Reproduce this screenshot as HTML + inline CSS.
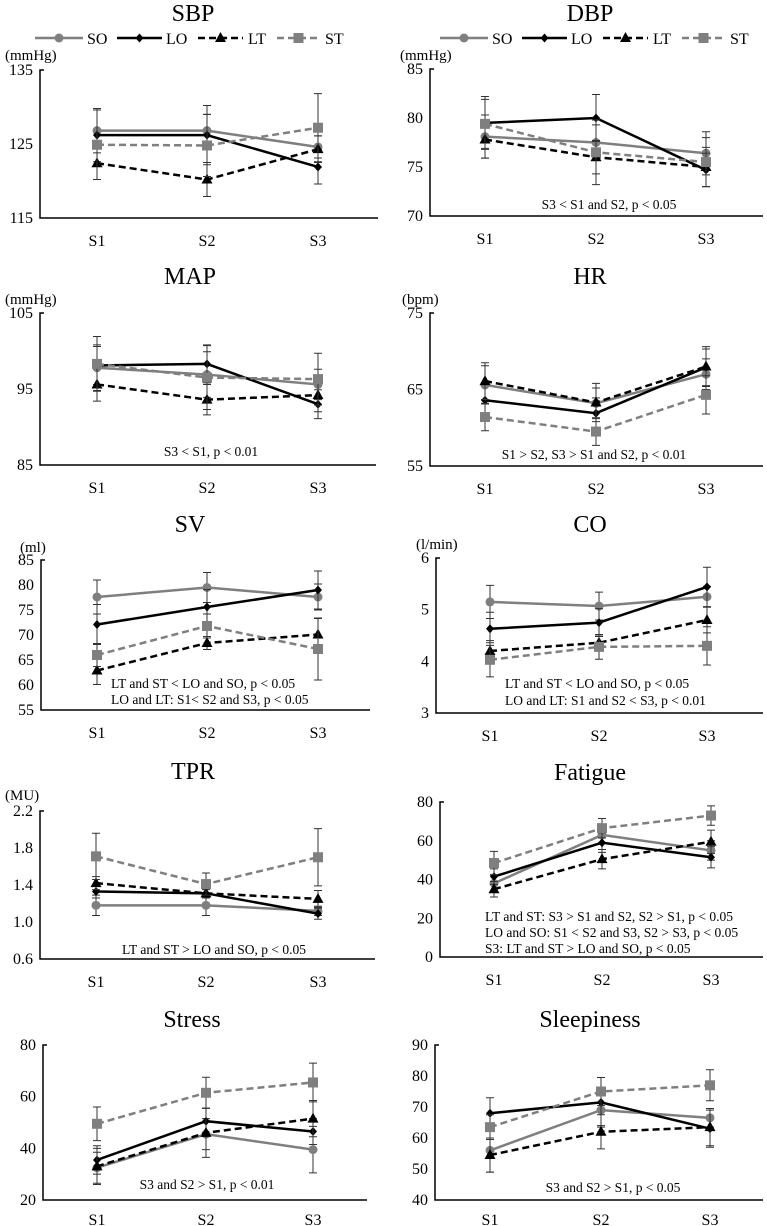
<!DOCTYPE html>
<html><head><meta charset="utf-8"><style>
html,body{margin:0;padding:0;background:#fff;}
svg{display:block;font-family:"Liberation Serif",serif;}
</style></head><body>
<svg id="fig" width="767" height="1226" viewBox="0 0 767 1226" xmlns="http://www.w3.org/2000/svg"></svg>
<script>
const categories = ["S1","S2","S3"];
const seriesNames = ["SO","LO","LT","ST"];

// SBP
const sbpSO=[126.8,126.8,124.6], sbpLO=[126.2,126.2,121.9], sbpLT=[122.4,120.2,124.3], sbpST=[124.9,124.8,127.2];
const sbpSOe=[3.0,2.2,1.5], sbpLOe=[3.6,4.0,2.3], sbpLTe=[2.2,2.3,1.8], sbpSTe=[4.7,4.2,4.6];
const sbpTicks=[115,125,135];
// DBP
const dbpSO=[78.1,77.5,76.4], dbpLO=[79.5,80.0,74.7], dbpLT=[77.8,76.0,75.0], dbpST=[79.4,76.5,75.5];
const dbpSOe=[2.2,1.8,2.2], dbpLOe=[2.7,2.4,1.7], dbpLTe=[1.9,1.7,2.0], dbpSTe=[2.5,3.3,2.5];
const dbpTicks=[70,75,80,85];
// MAP
const mapSO=[97.8,96.9,95.6], mapLO=[98.1,98.3,93.0], mapLT=[95.6,93.6,94.2], mapST=[98.3,96.5,96.3];
const mapSOe=[3.0,3.0,2.0], mapLOe=[2.5,2.5,1.9], mapLTe=[2.2,2.0,2.2], mapSTe=[3.6,4.2,3.4];
const mapTicks=[85,95,105];
// HR
const hrSO=[65.6,63.2,67.0], hrLO=[63.6,61.9,67.9], hrLT=[66.1,63.3,68.0], hrST=[61.4,59.5,64.3];
const hrSOe=[2.5,2.0,2.0], hrLOe=[2.3,2.0,2.4], hrLTe=[2.4,2.5,2.6], hrSTe=[1.8,1.8,2.5];
const hrTicks=[55,65,75];
// SV
const svSO=[77.6,79.5,77.6], svLO=[72.1,75.6,79.0], svLT=[62.9,68.4,70.1], svST=[66.0,71.8,67.2];
const svSOe=[3.4,3.0,2.6], svLOe=[4.0,3.5,3.8], svLTe=[2.8,1.3,3.2], svSTe=[2.3,2.4,6.2];
const svTicks=[55,60,65,70,75,80,85];
// CO
const coSO=[5.15,5.07,5.25], coLO=[4.63,4.75,5.44], coLT=[4.20,4.36,4.80], coST=[4.03,4.28,4.30];
const coSOe=[0.32,0.27,0.2], coLOe=[0.32,0.27,0.38], coLTe=[0.2,0.15,0.25], coSTe=[0.33,0.24,0.37];
const coTicks=[3,4,5,6];
// TPR
const tprSO=[1.18,1.18,1.12], tprLO=[1.33,1.31,1.09], tprLT=[1.42,1.31,1.25], tprST=[1.71,1.41,1.70];
const tprSOe=[0.11,0.11,0.05], tprLOe=[0.07,0.05,0.06], tprLTe=[0.07,0.04,0.09], tprSTe=[0.25,0.12,0.31];
const tprTicks=[0.6,1.0,1.4,1.8,2.2];
// Fatigue
const fatSO=[38,63,55], fatLO=[41.5,59,51.5], fatLT=[35,50.5,59.5], fatST=[48.5,66.5,73];
const fatSOe=[4,4,5], fatLOe=[4,5,5.5], fatLTe=[4,5,6], fatSTe=[6,5,5];
const fatTicks=[0,20,40,60,80];
// Stress
const strSO=[32.5,45.5,39.5], strLO=[35.5,50.5,46.5], strLT=[33,46,51.5], strST=[49.5,61.5,65.5];
const strSOe=[6,6,9], strLOe=[5.5,5,5], strLTe=[7,9.5,7], strSTe=[6.5,6,7.5];
const strTicks=[20,40,60,80];
// Sleepiness
const slpSO=[56,69,66.5], slpLO=[68,71.5,63], slpLT=[54.5,62,63.5], slpST=[63.5,75,77];
const slpSOe=[7,5,3], slpLOe=[5,8,6], slpLTe=[5.5,5.5,6], slpSTe=[4,4.5,5];
const slpTicks=[40,50,60,70,80,90];

const NS="http://www.w3.org/2000/svg";
const svg=document.getElementById('fig');
function mk(tag,attrs,parent){const e=document.createElementNS(NS,tag);for(const k in attrs)e.setAttribute(k,attrs[k]);(parent||svg).appendChild(e);return e;}
function txt(s,x,y,size,anchor,parent){const t=mk('text',{x:x,y:y,'font-size':size,'text-anchor':anchor||'start',fill:'#000'},parent);t.textContent=s;return t;}

const styles={
 SO:{color:'#7f7f7f',dash:'',marker:'circle'},
 LO:{color:'#000',dash:'',marker:'diamond'},
 LT:{color:'#000',dash:'7,4',marker:'triangle'},
 ST:{color:'#7f7f7f',dash:'7,4',marker:'square'}
};
function marker(type,x,y,color,g){
 if(type==='circle') return mk('circle',{cx:x,cy:y,r:4.5,fill:color},g);
 if(type==='diamond') return mk('polygon',{points:`${x},${y-4.5} ${x+4},${y} ${x},${y+4.5} ${x-4},${y}`,fill:color},g);
 if(type==='triangle') return mk('polygon',{points:`${x},${y-6} ${x+5.5},${y+4} ${x-5.5},${y+4}`,fill:color},g);
 return mk('rect',{x:x-5,y:y-5,width:10,height:10,fill:color},g);
}

function panel(p){
 const g=mk('g',{});
 
 
 const y=v=>p.bottom-(v-p.min)/(p.max-p.min)*(p.bottom-p.top);
 const x=i=>p.xs[i];
 const t=txt(p.title,p.titleX,p.titleY,24,'middle',g);
 
 
 if(p.unit){const u=txt(p.unit,p.unitX,p.unitY,15,'start',g);
  
  }
 const ax=mk('path',{d:`M${p.ax+4},${p.top} H${p.ax} V${p.bottom} H${p.right}`,stroke:'#000','stroke-width':1.5,fill:'none'},g);
 
 
 p.ticks.forEach(v=>{
  const l=txt(p.dec?v.toFixed(p.dec):String(v),p.ax-7,y(v)+5,16,'end',g);
  
  
 });
 categories.forEach((c,i)=>{
  const l=txt(c,x(i),p.bottom+(p.xlOff||28),16,'middle',g);
  
  
 });
 seriesNames.forEach((s,si)=>{
  const st=styles[s], vals=p.data[si], errs=p.err[si];
  const sg=mk('g',{},g);
  
  
  vals.forEach((v,i)=>{
   const e=errs[i];
   mk('path',{d:`M${x(i)},${y(v-e)} V${y(v+e)} M${x(i)-4},${y(v-e)} h8 M${x(i)-4},${y(v+e)} h8`,stroke:'#333','stroke-width':1},sg);
  });
  const pts=vals.map((v,i)=>x(i)+','+y(v)).join(' ');
  mk('polyline',{points:pts,fill:'none',stroke:st.color,'stroke-width':2.5,'stroke-dasharray':st.dash},sg);
  vals.forEach((v,i)=>{
   const m=marker(st.marker,x(i),y(v),st.color,sg);
   
   
  });
 });
 (p.notes||[]).forEach(n=>{
  const a=txt(n[0],n[1],n[2],13.5,n[3]||'middle',g);
  
  
 });
}
function legend(ox){
 const g=mk('g',{});
 
 
 const xs=[[35,83,87],[117,162,166],[198,243,248],[277,320,325]];
 seriesNames.forEach((s,i)=>{
  const st=styles[s],[a,b,tx]=xs[i];
  const eg=mk('g',{},g);
  
  
  mk('line',{x1:ox+a,y1:38,x2:ox+b,y2:38,stroke:st.color,'stroke-width':2.5,'stroke-dasharray':st.dash},eg);
  marker(st.marker,ox+(a+b)/2,38,st.color,eg);
  txt(s,ox+tx,44,16,'start',eg);
 });
}
legend(0); legend(405);

const L=[97,207,318];
panel({name:'sbp',title:'SBP',titleX:193,titleY:21,unit:'(mmHg)',unitX:5,unitY:60,ax:40,right:378,top:70,bottom:218,min:115,max:135,ticks:sbpTicks,xs:L,
 data:[sbpSO,sbpLO,sbpLT,sbpST],err:[sbpSOe,sbpLOe,sbpLTe,sbpSTe]});
panel({name:'dbp',title:'DBP',titleX:590,titleY:21,unit:'(mmHg)',unitX:400,unitY:60,ax:430,right:763,top:69,bottom:216,min:70,max:85,ticks:dbpTicks,xs:[485,596,706],
 data:[dbpSO,dbpLO,dbpLT,dbpST],err:[dbpSOe,dbpLOe,dbpLTe,dbpSTe],notes:[['S3 < S1 and S2, p < 0.05',609,209]]});
panel({name:'map',title:'MAP',titleX:190,titleY:284,unit:'(mmHg)',unitX:5,unitY:304,ax:40,right:376,top:313,bottom:465,min:85,max:105,ticks:mapTicks,xs:L,
 data:[mapSO,mapLO,mapLT,mapST],err:[mapSOe,mapLOe,mapLTe,mapSTe],notes:[['S3 < S1, p < 0.01',211,456]]});
panel({name:'hr',title:'HR',titleX:590,titleY:284,unit:'(bpm)',unitX:402,unitY:304,ax:430,right:763,top:313,bottom:466,min:55,max:75,ticks:hrTicks,xs:[485,596,706],
 data:[hrSO,hrLO,hrLT,hrST],err:[hrSOe,hrLOe,hrLTe,hrSTe],notes:[['S1 > S2, S3 > S1 and S2, p < 0.01',594,459]]});
panel({name:'sv',title:'SV',titleX:190,titleY:532,unit:'(ml)',unitX:20,unitY:552,ax:41,right:370,top:560,bottom:710,min:55,max:85,ticks:svTicks,xs:L,
 data:[svSO,svLO,svLT,svST],err:[svSOe,svLOe,svLTe,svSTe],notes:[['LT and ST < LO and SO, p < 0.05',111,688,'start'],['LO and LT: S1< S2 and S3, p < 0.05',111,704,'start']]});
panel({name:'co',title:'CO',titleX:590,titleY:532,unit:'(l/min)',unitX:416,unitY:549,ax:436,right:763,top:558,bottom:713,min:3,max:6,ticks:coTicks,xs:[490,599,707],
 data:[coSO,coLO,coLT,coST],err:[coSOe,coLOe,coLTe,coSTe],notes:[['LT and ST < LO and SO, p < 0.05',505,688,'start'],['LO and LT: S1 and S2 < S3, p < 0.01',505,705,'start']]});
panel({name:'tpr',title:'TPR',titleX:193,titleY:779,unit:'(MU)',unitX:5,unitY:800,ax:40,right:375,top:811,bottom:959,min:0.6,max:2.2,dec:1,ticks:tprTicks,xs:[96,206,318],
 data:[tprSO,tprLO,tprLT,tprST],err:[tprSOe,tprLOe,tprLTe,tprSTe],notes:[['LT and ST > LO and SO, p < 0.05',214,954]]});
panel({name:'fatigue',title:'Fatigue',titleX:590,titleY:780,ax:440,right:763,top:802,bottom:957,min:0,max:80,ticks:fatTicks,xs:[494,602,711],
 data:[fatSO,fatLO,fatLT,fatST],err:[fatSOe,fatLOe,fatLTe,fatSTe],notes:[['LT and ST: S3 > S1 and S2,  S2 > S1, p < 0.05',485,921,'start'],['LO and SO: S1 < S2 and S3, S2 > S3, p < 0.05',485,937,'start'],['S3: LT and ST > LO and SO, p < 0.05',485,953,'start']]});
panel({name:'stress',title:'Stress',titleX:192,titleY:1027,ax:43,right:367,top:1045,bottom:1200,min:20,max:80,ticks:strTicks,xs:[97,206,313],xlOff:25,
 data:[strSO,strLO,strLT,strST],err:[strSOe,strLOe,strLTe,strSTe],notes:[['S3 and S2 > S1, p < 0.01',207,1189]]});
panel({name:'sleepiness',title:'Sleepiness',titleX:590,titleY:1027,ax:435,right:763,top:1045,bottom:1200,min:40,max:90,ticks:slpTicks,xs:[490,601,710],xlOff:25,
 data:[slpSO,slpLO,slpLT,slpST],err:[slpSOe,slpLOe,slpLTe,slpSTe],notes:[['S3 and S2 > S1, p < 0.05',613,1192]]});
</script>
</body></html>
